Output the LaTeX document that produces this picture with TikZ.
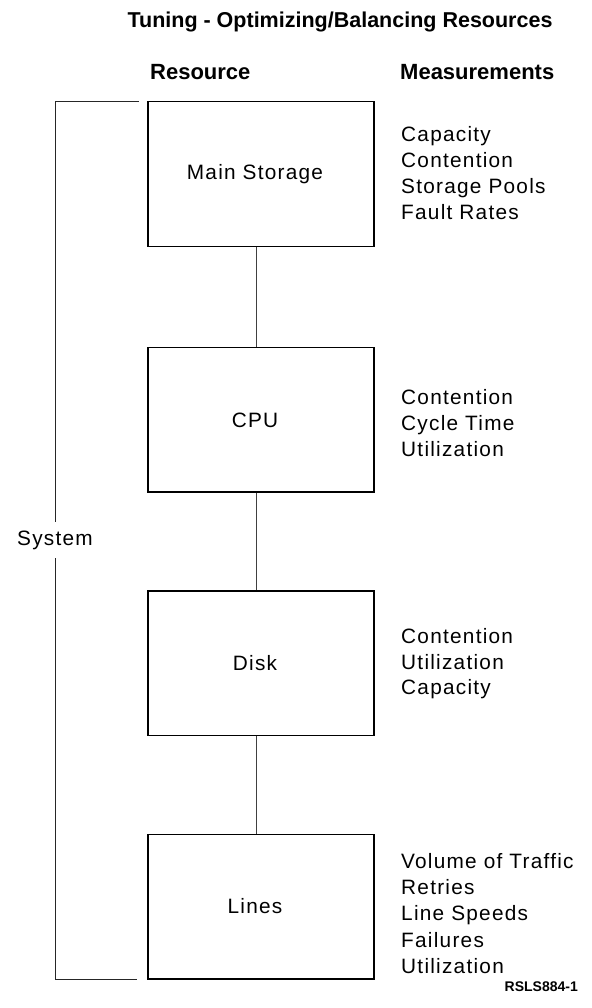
\documentclass[tikz,border=0pt]{standalone}
\usepackage{fontspec}
\setmainfont{Liberation Sans}
\newfontfamily\spacedfont[LetterSpace=6]{Liberation Sans}

\tikzset{
  txt/.style={inner sep=0pt, font=\spacedfont\fontsize{20.8}{26}\selectfont},
  resbox/.style={draw, line width=1.5pt, minimum width=226pt, minimum height=144.5pt, inner sep=0pt},
  meas/.style={txt, anchor=base west},
  head/.style={anchor=base west, inner sep=0pt, font=\bfseries\fontsize{22}{26}\selectfont},
  link/.style={line width=0.8pt, black!75},
  brace/.style={line width=0.9pt, black!85},
}

\begin{document}
\begin{tikzpicture}[x=1pt, y=-1pt]
  \useasboundingbox (0,0) rectangle (591,1008);

  % title and column headings
  \node[anchor=base, inner sep=0pt, font=\bfseries\fontsize{21.5}{26}\selectfont] (title) at (340,28) {Tuning - Optimizing/Balancing Resources};
  \node[head] (hres) at (150,80) {Resource};
  \node[head] (hmeas) at (400,80) {Measurements};

  % resource boxes
  \node[resbox] (main)  at (261,174)   {};
  \node[resbox] (cpu)   at (261,419.5) {};
  \node[resbox] (disk)  at (261,663)   {};
  \node[resbox] (lines) at (261,906.5) {};

  \node[txt] (mainlbl)  at (255,174)   {Main Storage};
  \node[txt] (cpulbl)   at (255,420)   {CPU};
  \node[txt] (disklbl)  at (255,663)   {Disk};
  \node[txt] (lineslbl) at (255,906.5) {Lines};

  % vertical links between the boxes
  \coordinate (axis) at (256,0);
  \draw[link] (main.south -| axis)  -- (cpu.north -| axis);
  \draw[link] (cpu.south -| axis)   -- (disk.north -| axis);
  \draw[link] (disk.south -| axis)  -- (lines.north -| axis);

  % measurements for each resource
  \foreach \t [count=\i from 0] in {Capacity, Contention, Storage Pools, Fault Rates}
    \node[meas] (mm\i) at (401,141.5+26*\i) {\t};
  \foreach \t [count=\i from 0] in {Contention, Cycle Time, Utilization}
    \node[meas] (cm\i) at (401,404.5+26*\i) {\t};
  \foreach \t [count=\i from 0] in {Contention, Utilization, Capacity}
    \node[meas] (dm\i) at (401,643.5+25.5*\i) {\t};
  \foreach \t [count=\i from 0] in {Volume of Traffic, Retries, Line Speeds, Failures, Utilization}
    \node[meas] (lm\i) at (401,868.5+26.2*\i) {\t};

  % system bracket
  \coordinate (bt) at (139,101);
  \coordinate (bb) at (137,979);
  \node[txt, anchor=base, inner ysep=8.5pt] (sys) at (55,545) {System};
  \draw[brace] (bt) -- (bt -| sys) -- (sys.north);
  \draw[brace] (sys.south) -- (bb -| sys) -- (bb);

  % figure code
  \node[anchor=base east, inner sep=0pt, font=\bfseries\fontsize{14}{16}\selectfont] (code) at (578,991) {RSLS884-1};
\end{tikzpicture}
\end{document}
